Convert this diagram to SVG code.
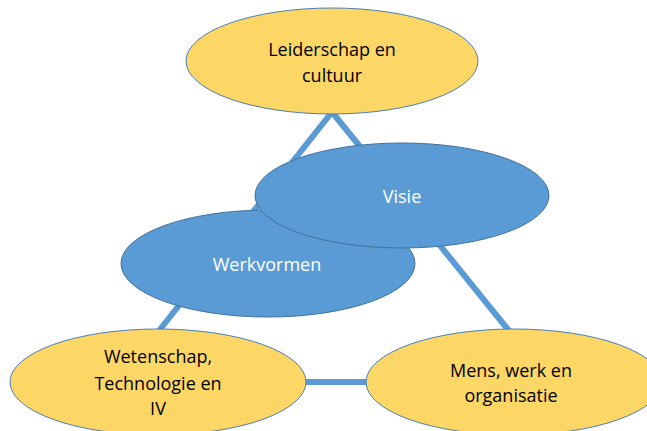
<svg xmlns="http://www.w3.org/2000/svg" width="647" height="431" viewBox="0 0 647 431">
<style>
.yel{fill:#FCD766;stroke:#4A7EB5;stroke-width:1}
.blu{fill:#5B9BD5;stroke:#41719C;stroke-width:1}
.conn{stroke:#5B9BD5;stroke-width:6;fill:none}
text{font-family:"Open Sans","Noto Sans","Liberation Sans",sans-serif;font-size:18px;text-anchor:middle}
.dk{fill:#000}
.wt{fill:#fff}
</style>
<rect width="647" height="431" fill="#fff"/>
<g id="connectors">
<line class="conn" x1="332" y1="112" x2="158" y2="332"/>
<line class="conn" x1="332" y1="112" x2="510" y2="332"/>
<line class="conn" x1="300" y1="382" x2="372" y2="382"/>
</g>
<g id="leiderschap">
<ellipse class="yel" cx="332" cy="61" rx="146" ry="53"/>
<text class="dk" x="332" y="56">Leiderschap en</text>
<text class="dk" x="332" y="82">cultuur</text>
</g>
<g id="wetenschap">
<ellipse class="yel" cx="158" cy="382" rx="148" ry="53"/>
<text class="dk" x="158" y="363">Wetenschap,</text>
<text class="dk" x="158" y="390">Technologie en</text>
<text class="dk" x="158" y="415">IV</text>
</g>
<g id="mens">
<ellipse class="yel" cx="514" cy="382" rx="148" ry="53"/>
<text class="dk" x="511" y="377">Mens, werk en</text>
<text class="dk" x="511" y="402">organisatie</text>
</g>
<g id="werkvormen">
<ellipse class="blu" cx="268" cy="263.5" rx="147" ry="53.5"/>
<text class="wt" x="267" y="271">Werkvormen</text>
</g>
<g id="visie">
<ellipse class="blu" cx="402" cy="195.5" rx="147" ry="52.5"/>
<text class="wt" x="402" y="203">Visie</text>
</g>
</svg>
